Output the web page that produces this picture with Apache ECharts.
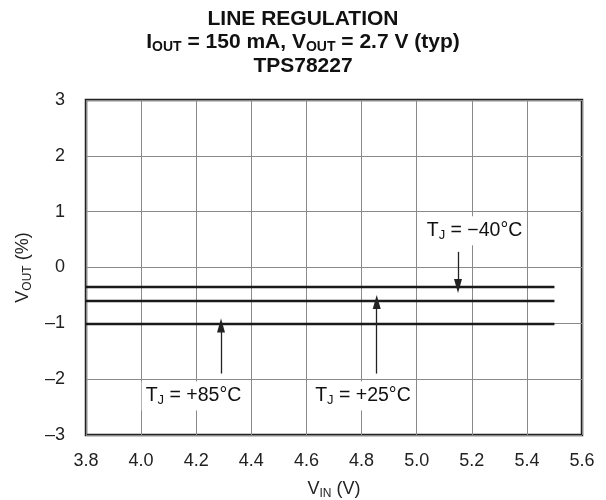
<!DOCTYPE html>
<html>
<head>
<meta charset="utf-8">
<script src="https://cdn.jsdelivr.net/npm/echarts@6/dist/echarts.min.js"></script>
<style>
html,body{margin:0;padding:0;background:#fff;}
#c{width:606px;height:500px;}
</style>
</head>
<body>
<div id="c"></div>
<script>
// Data
var vin = [3.8, 4.0, 4.2, 4.4, 4.6, 4.8, 5.0, 5.2, 5.4, 5.5];
var vout_m40 = [-0.35, -0.35, -0.35, -0.35, -0.35, -0.35, -0.35, -0.35, -0.35, -0.35];
var vout_25  = [-0.60, -0.60, -0.60, -0.60, -0.60, -0.60, -0.60, -0.60, -0.60, -0.60];
var vout_85  = [-1.01, -1.01, -1.01, -1.01, -1.01, -1.01, -1.01, -1.01, -1.01, -1.01];
var xTicks = [3.8, 4.0, 4.2, 4.4, 4.6, 4.8, 5.0, 5.2, 5.4, 5.6];
var yTicks = [-3, -2, -1, 0, 1, 2, 3];
// Annotations: label text, label anchor [x, y], arrow [x, yStart, yEnd]
var annLabels = ['−40°C', '+85°C', '+25°C'];
var annLabelPos = [[5.21, 0.66], [4.19, -2.30], [4.805, -2.30]];
var annArrows = [[5.15, 0.28, -0.33], [4.29, -1.90, -1.04], [4.855, -1.90, -0.62]];

function pairs(xs, ys){ return xs.map(function(x,i){ return [x, ys[i]]; }); }

var font = 'Liberation Sans, Arial, sans-serif';
var labelRich = {
  t: {fontSize: 19.5, fontFamily: font, color: '#111'},
  s: {fontSize: 13, fontFamily: font, color: '#111', padding: [10, 0, 0, 0]}
};

var markPts = annLabels.map(function(t, i){
  return {
    coord: annLabelPos[i], symbolSize: 0,
    label: {
      show: true, position: 'inside',
      formatter: '{t|T}{s|J}{t| = ' + t + '}',
      rich: labelRich,
      backgroundColor: '#fff', padding: [3, 4, 3, 4]
    }
  };
});
var arrowLines = annArrows.map(function(a){
  return [{coord: [a[0], a[1]]}, {coord: [a[0], a[2]]}];
});

var lineStyle = {color: '#1a1a1a', width: 2.5};
var chart = echarts.init(document.getElementById('c'), null, {renderer: 'canvas'});
chart.setOption({
  animation: false,
  backgroundColor: '#fff',
  title: {
    text: '{b|LINE REGULATION}\n{b|I}{bs|OUT}{b| = 150 mA, V}{bs|OUT}{b| = 2.7 V (typ)}\n{b|TPS78227}',
    left: 'center', top: 2,
    textStyle: {
      rich: {
        b: {fontSize: 21, fontWeight: 'bold', fontFamily: font, color: '#111', lineHeight: 23.5},
        bs: {fontSize: 14, fontWeight: 'bold', fontFamily: font, color: '#111', lineHeight: 23.5, padding: [9, 0, 0, 0]}
      }
    }
  },
  grid: {left: 86, top: 100, width: 496, height: 335, show: true, borderColor: '#222', borderWidth: 2.5,
    backgroundColor: 'transparent', outerBoundsMode: 'none', containLabel: false},
  xAxis: {
    type: 'value', min: 3.8, max: 5.6, interval: 0.2,
    axisLine: {show: false}, axisTick: {show: false},
    splitLine: {show: true, lineStyle: {color: '#8a8a8a', width: 1}},
    axisLabel: {fontSize: 18, fontFamily: font, color: '#222', margin: 17,
      formatter: function(v){ return v.toFixed(1); }},
    name: '{t|V}{s|IN}{t| (V)}', nameLocation: 'middle', nameGap: 44,
    nameTextStyle: {rich: {
      t: {fontSize: 18, fontFamily: font, color: '#222'},
      s: {fontSize: 12, fontFamily: font, color: '#222', padding: [9, 0, 0, 0]}
    }}
  },
  yAxis: {
    type: 'value', min: -3, max: 3, interval: 1,
    axisLine: {show: false}, axisTick: {show: false},
    splitLine: {show: true, lineStyle: {color: '#8a8a8a', width: 1}},
    axisLabel: {fontSize: 18, fontFamily: font, color: '#222', margin: 21,
      formatter: function(v){ return v < 0 ? '\u2013' + Math.abs(v) : String(v); }},
    name: '{t|V}{s|OUT}{t| (%)}', nameLocation: 'middle', nameGap: 52,
    nameTextStyle: {rich: {
      t: {fontSize: 18, fontFamily: font, color: '#222'},
      s: {fontSize: 12, fontFamily: font, color: '#222', padding: [9, 0, 0, 0]}
    }}
  },
  series: [
    {type: 'line', data: pairs(vin, vout_m40), symbol: 'none', lineStyle: lineStyle, z: 3,
     markLine: {silent: true, symbol: ['none', 'triangle'], symbolSize: [8, 14], label: {show: false},
       lineStyle: {color: '#222', width: 1.3, type: 'solid'}, data: arrowLines}},
    {type: 'line', data: pairs(vin, vout_25), symbol: 'none', lineStyle: lineStyle, z: 3},
    {type: 'line', data: pairs(vin, vout_85), symbol: 'none', lineStyle: lineStyle, z: 3,
     markPoint: {silent: true, data: markPts}}
  ]
});
</script>
</body>
</html>
